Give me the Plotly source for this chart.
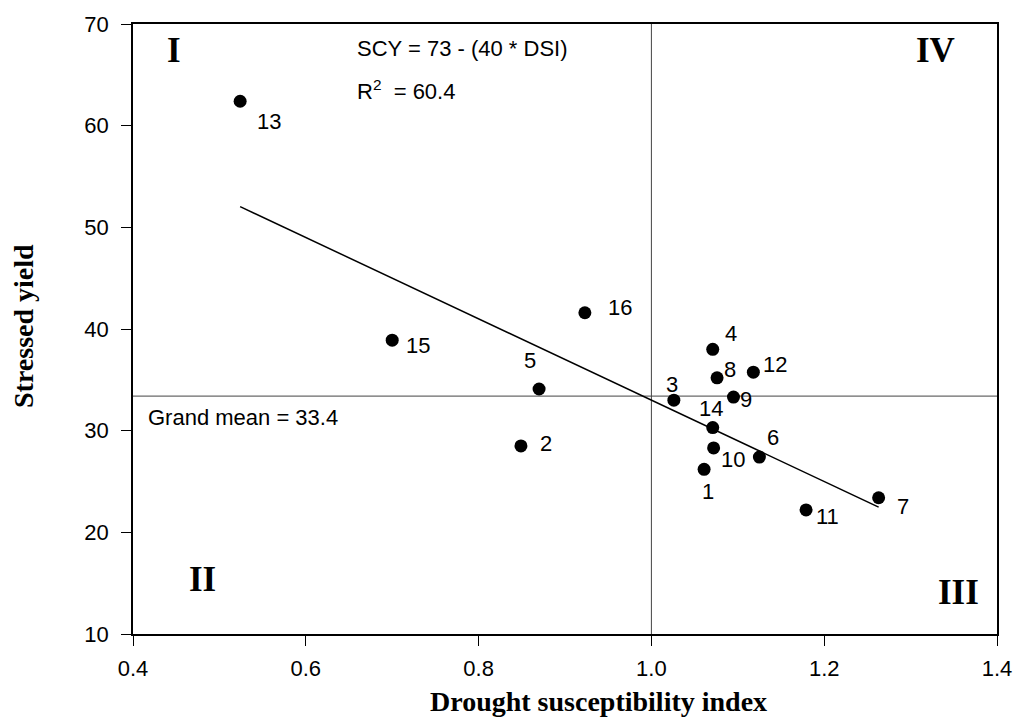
import json
import plotly.graph_objects as go

# ---- data ----
genotypes = ["1", "2", "3", "4", "5", "6", "7", "8", "9", "10", "11", "12", "13", "14", "15", "16"]
dsi = [1.061, 0.849, 1.026, 1.071, 0.870, 1.125, 1.263, 1.076, 1.095, 1.072, 1.179, 1.118, 0.524, 1.071, 0.700, 0.923]
stressed_yield = [26.2, 28.5, 33.0, 38.0, 34.1, 27.4, 23.4, 35.2, 33.3, 28.3, 22.2, 35.75, 62.4, 30.3, 38.9, 41.6]
reg_intercept = 73.0
reg_slope = -40.0
grand_mean = 33.4
dsi_ref = 1.0
x_ticks = [0.4, 0.6, 0.8, 1.0, 1.2, 1.4]
y_ticks = [10, 20, 30, 40, 50, 60, 70]
quadrants = ["I", "II", "III", "IV"]

# label offsets (pixels, dx right, dy down) for point labels
label_offsets = {
    "1": (4, 22), "2": (25, -2), "3": (-2, -16), "4": (18, -16), "5": (-9, -28),
    "6": (14, -20), "7": (24, 9), "8": (13, -8), "9": (13, 2), "10": (19, 12),
    "11": (21, 7), "12": (22, -8), "13": (29, 20), "14": (-2, -19), "15": (26, 5),
    "16": (35, -5),
}

ARIAL = "Liberation Sans, Arial, sans-serif"
TIMES = "Liberation Serif, Times New Roman, serif"

# final page geometry
W, H = 1024, 722
L, T = 133, 24
R = W - 1005
B = H - 634
PW, PH = W - L - R, H - T - B

fig = go.Figure()

# reference lines
fig.add_trace(go.Scatter(x=[x_ticks[0], x_ticks[-1]], y=[grand_mean, grand_mean], mode="lines",
                         line=dict(color="#444444", width=1), hoverinfo="skip", showlegend=False))
fig.add_trace(go.Scatter(x=[dsi_ref, dsi_ref], y=[y_ticks[0], y_ticks[-1]], mode="lines",
                         line=dict(color="#444444", width=1), hoverinfo="skip", showlegend=False))

# regression line
xmin, xmax = min(dsi), max(dsi)
fig.add_trace(go.Scatter(x=[xmin, xmax],
                         y=[reg_intercept + reg_slope * xmin, reg_intercept + reg_slope * xmax],
                         mode="lines", line=dict(color="black", width=1.5), showlegend=False))

# points
fig.add_trace(go.Scatter(x=dsi, y=stressed_yield, mode="markers",
                         marker=dict(color="black", size=13), showlegend=False))

annotations = []
for g, xv, yv in zip(genotypes, dsi, stressed_yield):
    dx, dy = label_offsets[g]
    annotations.append(dict(x=xv, y=yv, text=g, showarrow=False, xshift=dx, yshift=-dy,
                            font=dict(family=ARIAL, size=22, color="black")))

quad_pos = {"I": (0.448, 67.4), "II": (0.481, 15.4), "III": (1.355, 14.05), "IV": (1.329, 67.4)}
for q in quadrants:
    qx, qy = quad_pos[q]
    annotations.append(dict(x=qx, y=qy, text="<b>%s</b>" % q, showarrow=False,
                            font=dict(family=TIMES, size=35, color="black")))

annotations.append(dict(x=0.657, y=67.6, xanchor="left", showarrow=False,
                        text="SCY = %d - (%d * DSI)" % (reg_intercept, -reg_slope),
                        font=dict(family=ARIAL, size=22, color="black")))
annotations.append(dict(x=0.657, y=63.5, xanchor="left", showarrow=False,
                        text="R<sup>2</sup>  = 60.4",
                        font=dict(family=ARIAL, size=22, color="black")))
annotations.append(dict(x=0.4146, y=31.26, xanchor="left", showarrow=False,
                        text="Grand mean = %.1f" % grand_mean,
                        font=dict(family=ARIAL, size=22, color="black")))

# axis titles (page-pixel centres converted to paper coordinates of the final size)
xt_cx, xt_cy = 603, 701
yt_cx, yt_cy = 23, 326
annotations.append(dict(x=(xt_cx - L) / PW, y=((H - B) - xt_cy) / PH, xref="paper", yref="paper",
                        xanchor="center", yanchor="middle",
                        showarrow=False, text="<b>Drought susceptibility index</b>",
                        font=dict(family=TIMES, size=28, color="black")))
annotations.append(dict(x=(yt_cx - L) / PW, y=((H - B) - yt_cy) / PH, xref="paper", yref="paper",
                        xanchor="center", yanchor="middle",
                        showarrow=False, text="<b>Stressed yield</b>", textangle=-90,
                        font=dict(family=TIMES, size=28, color="black")))

axis_common = dict(showgrid=False, zeroline=False, showline=True, linecolor="black", linewidth=1.5,
                   mirror=True, ticks="outside", ticklen=10, tickwidth=1.2, tickcolor="black",
                   tickfont=dict(family=ARIAL, size=22, color="black"))

# initial size fits inside the default 8px body margin (no scrollbars);
# after load the margin is removed and the figure grows to the full window
OFF = 8
fig.update_layout(
    width=W - 2 * OFF, height=H - 2 * OFF,
    margin=dict(l=L - OFF, r=R - OFF, t=T - OFF, b=B - OFF),
    paper_bgcolor="white", plot_bgcolor="white",
    annotations=annotations,
    xaxis=dict(range=[x_ticks[0], x_ticks[-1]], tickvals=x_ticks,
               ticktext=["%.1f" % v for v in x_ticks], ticklabelstandoff=4, **axis_common),
    yaxis=dict(range=[y_ticks[0], y_ticks[-1]], tickvals=y_ticks, ticklabelstandoff=8,
               **axis_common),
)

final = {"width": W, "height": H, "margin.l": L, "margin.r": R, "margin.t": T, "margin.b": B}
post = (
    "document.documentElement.style.overflow='hidden';"
    "document.body.style.margin='0';document.body.style.overflow='hidden';"
    "var gd=document.getElementById('{plot_id}');"
    "Plotly.relayout(gd," + json.dumps(final) + ");"
)

fig.write_html("out.html", config={"displayModeBar": False}, post_script=post)
